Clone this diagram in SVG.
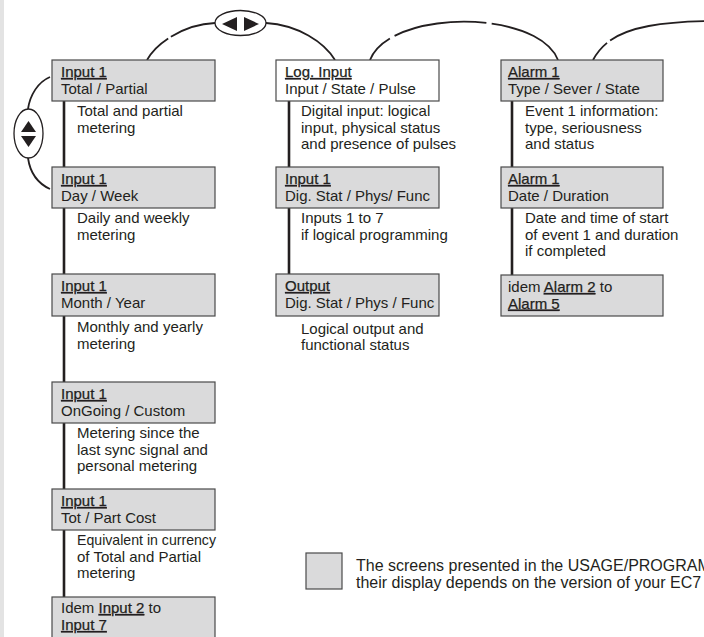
<svg xmlns="http://www.w3.org/2000/svg" width="704" height="637" viewBox="0 0 704 637">
<style>
text{font-family:"Liberation Sans",Arial,Helvetica,sans-serif;font-size:15px;fill:#231f20}
.box{fill:#dadadb;stroke:#4a4a4a;stroke-width:1.2}
.wbox{fill:#ffffff;stroke:#4a4a4a;stroke-width:1.2}
.t{text-decoration:underline;stroke:#231f20;stroke-width:0.25}
.u{text-decoration:underline;stroke:#231f20;stroke-width:0.25}
.lg{font-size:16px}
.v{stroke:#231f20;stroke-width:2.6;fill:none}
.arc{stroke:#231f20;stroke-width:1.8;fill:none}
.tri{fill:#231f20}
.ell{fill:#ffffff;stroke:#231f20;stroke-width:1.3}
</style>
<rect x="0" y="0" width="704" height="637" fill="#ffffff"/>
<rect x="0" y="0" width="4" height="637" fill="#e3e3e3"/>

<g id="connectors">
  <line class="v" x1="64" y1="101" x2="64" y2="597"/>
  <line class="v" x1="289" y1="101" x2="289" y2="274"/>
  <line class="v" x1="512" y1="101" x2="512" y2="275"/>
  <path class="arc" d="M215,23 C188,24 158,40 147,60" pathLength="100" stroke-dasharray="58 4 100"/>
  <path class="arc" d="M266,23 C298,25 324,42 335,60"/>
  <path class="arc" d="M370,60 C390,9 538,9 558,60" pathLength="100" stroke-dasharray="14 2.5 44 2.5 200"/>
  <path class="arc" d="M593,60 C608,32 640,22 712,21" pathLength="100" stroke-dasharray="17 3 200"/>
  <path class="arc" d="M50,77 C38,82 30,95 28,109"/>
  <path class="arc" d="M28,158 C30,172 37,183 50,189"/>
  <g id="nav-horizontal">
    <ellipse class="ell" cx="240.5" cy="23" rx="25.5" ry="12.5"/>
    <polygon class="tri" points="222,24 237,17 237,31"/>
    <polygon class="tri" points="259,24 244,17 244,31"/>
  </g>
  <g id="nav-vertical">
    <ellipse class="ell" cx="28.5" cy="133.5" rx="14.5" ry="24.5"/>
    <polygon class="tri" points="28.5,121 21,132 36,132"/>
    <polygon class="tri" points="28.5,147 21,136 36,136"/>
  </g>
</g>

<g id="input1-total">
  <rect class="box" x="52" y="60" width="163" height="41"/>
  <text x="61" y="77" class="t">Input 1</text>
  <text x="61" y="94">Total / Partial</text>
  <text x="77" y="116">Total and partial</text>
  <text x="77" y="132.5">metering</text>
</g>
<g id="input1-day">
  <rect class="box" x="52" y="167" width="163" height="41"/>
  <text x="61" y="184" class="t">Input 1</text>
  <text x="61" y="201">Day / Week</text>
  <text x="77" y="223">Daily and weekly</text>
  <text x="77" y="239.5">metering</text>
</g>
<g id="input1-month">
  <rect class="box" x="52" y="274" width="163" height="42"/>
  <text x="61" y="291" class="t">Input 1</text>
  <text x="61" y="308">Month / Year</text>
  <text x="77" y="332">Monthly and yearly</text>
  <text x="77" y="348.5">metering</text>
</g>
<g id="input1-ongoing">
  <rect class="box" x="52" y="382" width="163" height="41"/>
  <text x="61" y="399" class="t">Input 1</text>
  <text x="61" y="416">OnGoing / Custom</text>
  <text x="77" y="438">Metering since the</text>
  <text x="77" y="454.5">last sync signal and</text>
  <text x="77" y="471">personal metering</text>
</g>
<g id="input1-cost">
  <rect class="box" x="52" y="489" width="163" height="41"/>
  <text x="61" y="506" class="t">Input 1</text>
  <text x="61" y="523">Tot / Part Cost</text>
  <text x="77" y="545" textLength="139" lengthAdjust="spacingAndGlyphs">Equivalent in currency</text>
  <text x="77" y="561.5">of Total and Partial</text>
  <text x="77" y="578">metering</text>
</g>
<g id="input-idem">
  <rect class="box" x="52" y="597" width="163" height="50"/>
  <text x="61" y="613">Idem <tspan class="u">Input 2</tspan> to</text>
  <text x="61" y="630" class="t">Input 7</text>
</g>

<g id="log-input">
  <rect class="wbox" x="276" y="60" width="163" height="41"/>
  <text x="285" y="77" class="t">Log. Input</text>
  <text x="285" y="94">Input / State / Pulse</text>
  <text x="301" y="116">Digital input: logical</text>
  <text x="301" y="132.5">input, physical status</text>
  <text x="301" y="149">and presence of pulses</text>
</g>
<g id="input1-dig">
  <rect class="box" x="276" y="167" width="163" height="41"/>
  <text x="285" y="184" class="t">Input 1</text>
  <text x="285" y="201">Dig. Stat / Phys/ Func</text>
  <text x="301" y="223">Inputs 1 to 7</text>
  <text x="301" y="239.5">if logical programming</text>
</g>
<g id="output">
  <rect class="box" x="276" y="274" width="163" height="42"/>
  <text x="285" y="291" class="t">Output</text>
  <text x="285" y="308">Dig. Stat / Phys / Func</text>
  <text x="301" y="334">Logical output and</text>
  <text x="301" y="350">functional status</text>
</g>

<g id="alarm1-type">
  <rect class="box" x="501" y="60" width="162" height="41"/>
  <text x="508" y="77" class="t">Alarm 1</text>
  <text x="508" y="94">Type / Sever / State</text>
  <text x="525" y="116">Event 1 information:</text>
  <text x="525" y="132.5">type, seriousness</text>
  <text x="525" y="149">and status</text>
</g>
<g id="alarm1-date">
  <rect class="box" x="501" y="167" width="162" height="41"/>
  <text x="508" y="184" class="t">Alarm 1</text>
  <text x="508" y="201">Date / Duration</text>
  <text x="525" y="223">Date and time of start</text>
  <text x="525" y="239.5">of event 1 and duration</text>
  <text x="525" y="255.5">if completed</text>
</g>
<g id="alarm-idem">
  <rect class="box" x="501" y="275" width="162" height="41"/>
  <text x="508" y="292">idem <tspan class="u">Alarm 2</tspan> to</text>
  <text x="508" y="308.5" class="t">Alarm 5</text>
</g>

<g id="legend">
  <rect class="box" x="306" y="553" width="36" height="36"/>
  <text x="356" y="571" class="lg">The screens presented in the USAGE/PROGRAM</text>
  <text x="356" y="588" class="lg">their display depends on the version of your EC7</text>
</g>
</svg>
